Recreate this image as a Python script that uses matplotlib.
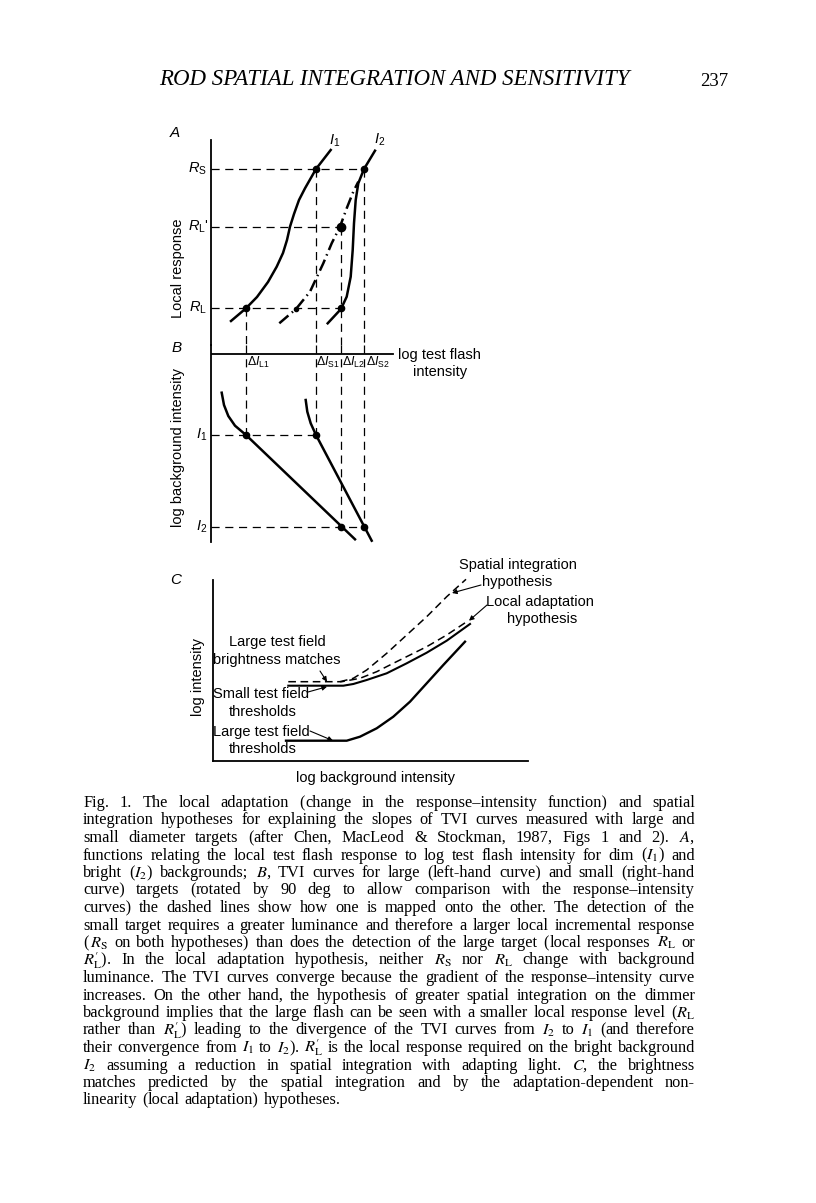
import matplotlib
matplotlib.use("Agg")
import matplotlib.pyplot as plt

W, H = 816, 1203

# ---- panel A / B levels (x: log test flash intensity, y: response / log background)
R_S, R_Lp, R_L = 17.6, 11.8, 3.7
dI_L1, dI_S1, dI_L2, dI_S2 = 3.5, 10.5, 13.0, 15.3
I1_lvl, I2_lvl = 8.1, 17.3
B_axis_end = 18.2

# response-intensity curves (panel A)
i1_x = [2.0, 3.5, 4.6, 5.7, 6.57, 7.2, 7.6, 7.9, 8.3, 8.8, 9.4, 10.5, 11.97]
i1_y = [2.4, 3.67, 4.8, 6.3, 7.83, 9.2, 10.5, 11.83, 13.1, 14.5, 15.67, 17.6, 19.5]
i2_x = [11.67, 13.0, 13.57, 13.97, 14.17, 14.3, 14.47, 14.73, 15.3, 16.4]
i2_y = [2.17, 3.6, 4.83, 6.83, 9.5, 12.17, 14.5, 16.17, 17.6, 19.43]
i2adj_x = [6.83, 8.5, 9.9, 11.23, 12.07, 12.9, 13.57, 14.23, 14.73]
i2adj_y = [2.17, 3.6, 5.33, 8.17, 10.17, 11.83, 13.67, 15.33, 16.33]

# TVI curves (panel B, rotated)
tvi_large_x = [1.07, 1.3, 1.73, 2.4, 3.5, 14.4]
tvi_large_y = [3.87, 5.1, 6.2, 7.17, 8.1, 18.53]
tvi_small_x = [9.47, 9.63, 9.97, 10.5, 16.07]
tvi_small_y = [4.6, 5.77, 6.93, 8.1, 18.67]

# ---- panel C (x: log background intensity, y: log intensity)
thr_large_x = [7.3, 13.37, 14.7, 16.37, 18.03, 19.7, 21.37, 23.03, 25.2]
thr_large_y = [2.03, 2.03, 2.43, 3.27, 4.43, 5.93, 7.77, 9.6, 11.93]
thr_small_x = [7.53, 13.03, 14.03, 15.37, 17.37, 19.37, 21.37, 23.37, 25.7]
thr_small_y = [7.53, 7.53, 7.7, 8.1, 8.77, 9.77, 10.83, 12.03, 13.7]
local_x = [7.53, 12.87, 14.7, 16.37, 18.03, 19.7, 21.37, 23.37, 25.53]
local_y = [7.93, 7.93, 8.27, 8.93, 9.77, 10.6, 11.43, 12.6, 14.03]
spatial_x = [12.7, 14.03, 15.37, 17.37, 19.37, 21.37, 23.37, 25.3]
spatial_y = [7.93, 8.27, 9.1, 10.77, 12.6, 14.43, 16.43, 18.17]

caption = [
    "Fig. 1. The local adaptation (change in the response\u2013intensity function) and spatial",
    "integration hypotheses for explaining the slopes of TVI curves measured with large and",
    "small diameter targets (after Chen, MacLeod & Stockman, 1987, Figs 1 and 2). $A$,",
    "functions relating the local test flash response to log test flash intensity for dim ($I_1$) and",
    "bright ($I_2$) backgrounds; $B$, TVI curves for large (left-hand curve) and small (right-hand",
    "curve) targets (rotated by 90 deg to allow comparison with the response\u2013intensity",
    "curves) the dashed lines show how one is mapped onto the other. The detection of the",
    "small target requires a greater luminance and therefore a larger local incremental response",
    r"($\,R_\mathrm{S}$ on both hypotheses) than does the detection of the large target (local responses $R_\mathrm{L}$ or",
    r"$R_\mathrm{L}^{\prime}$). In the local adaptation hypothesis, neither $R_\mathrm{S}$ nor $R_\mathrm{L}$ change with background",
    "luminance. The TVI curves converge because the gradient of the response\u2013intensity curve",
    "increases. On the other hand, the hypothesis of greater spatial integration on the dimmer",
    r"background implies that the large flash can be seen with a smaller local response level ($R_\mathrm{L}$",
    r"rather than $R_\mathrm{L}^{\prime}$) leading to the divergence of the TVI curves from $I_2$ to $I_1$ (and therefore",
    r"their convergence from $I_1$ to $I_2$). $R_\mathrm{L}^{\prime}$ is the local response required on the bright background",
    "$I_2$ assuming a reduction in spatial integration with adapting light. $C$, the brightness",
    "matches predicted by the spatial integration and by the adaptation-dependent non-",
    "linearity (local adaptation) hypotheses.",
]

plt.rcParams["font.family"] = ["Liberation Sans", "DejaVu Sans"]
plt.rcParams["mathtext.fontset"] = "custom"
plt.rcParams["mathtext.rm"] = "Liberation Sans"
plt.rcParams["mathtext.it"] = "Liberation Sans:italic"
plt.rcParams["mathtext.bf"] = "Liberation Sans:bold"

fig = plt.figure(figsize=(W / 100, H / 100), dpi=100)
fig.patch.set_facecolor("white")


def box(l, t, r, b):
    return [l / W, 1 - b / H, (r - l) / W, (b - t) / H]


def fp(x, y):
    return x / W, 1 - y / H


def bare(ax):
    for s in ("top", "right", "bottom"):
        ax.spines[s].set_visible(False)
    ax.spines["left"].set_linewidth(1.3)
    ax.set_xticks([])
    ax.set_yticks([])
    ax.patch.set_alpha(0)


DASH = (6.5, 4.5)
LW = 1.8
FS = 10.5

# ---------------- panel A
ax_a = fig.add_axes(box(211, 130, 480, 345))
ax_a.set_xlim(0, 26.9)
ax_a.set_ylim(0, 21.5)
bare(ax_a)
ax_a.spines["left"].set_bounds(0, 20.5)

for y, xe in zip([R_S, R_Lp, R_L], [dI_S2, dI_L2, dI_L2]):
    ax_a.plot([0, xe], [y, y], color="k", lw=0.9, dashes=DASH)
for x, ys in zip([dI_L1, dI_S1, dI_L2, dI_S2], [R_L, R_S, R_Lp, R_S]):
    ax_a.plot([x, x], [ys, 0], color="k", lw=0.9, dashes=DASH, clip_on=False)

ax_a.plot(i1_x, i1_y, color="k", lw=LW, solid_joinstyle="round", clip_on=False)
ax_a.plot(i2_x, i2_y, color="k", lw=LW, solid_joinstyle="round", clip_on=False)
ax_a.plot(i2adj_x, i2adj_y, color="k", lw=LW, dashes=(4.8, 1.8, 0.6, 1.8), clip_on=False)
ax_a.plot([dI_L1, dI_S1, dI_S2, dI_L2], [R_L, R_S, R_S, R_L], "ko", ms=4.5, clip_on=False)
ax_a.plot([dI_L2], [R_Lp], "ko", ms=6, clip_on=False)
ax_a.plot([i2adj_x[1]], [i2adj_y[1]], "ko", ms=3, clip_on=False)

# ---------------- panel B
ax_b = fig.add_axes(box(211, 345, 480, 550))
ax_b.set_xlim(0, 26.9)
ax_b.set_ylim(19.6, -0.9)
bare(ax_b)
ax_b.spines["left"].set_bounds(-0.9, 18.8)

ax_b.plot([0, B_axis_end], [0, 0], color="k", lw=1.3)
for x, ye in zip([dI_L1, dI_S1, dI_L2, dI_S2], [I1_lvl, I1_lvl, I2_lvl, I2_lvl]):
    ax_b.plot([x, x], [-0.9, ye], color="k", lw=0.9, dashes=DASH, clip_on=False)
for y, xe in zip([I1_lvl, I2_lvl], [dI_S1, dI_S2]):
    ax_b.plot([0, xe], [y, y], color="k", lw=0.9, dashes=DASH)

ax_b.plot(tvi_large_x, tvi_large_y, color="k", lw=LW, solid_joinstyle="round", clip_on=False)
ax_b.plot(tvi_small_x, tvi_small_y, color="k", lw=LW, solid_joinstyle="round", clip_on=False)
ax_b.plot([dI_L1, dI_S1, dI_L2, dI_S2], [I1_lvl, I1_lvl, I2_lvl, I2_lvl], "ko", ms=4.5, clip_on=False)

# ---------------- panel C
ax_c = fig.add_axes(box(213, 575, 528, 761))
ax_c.set_xlim(0, 31.5)
ax_c.set_ylim(0, 18.6)
bare(ax_c)
ax_c.spines["bottom"].set_visible(True)
ax_c.spines["bottom"].set_linewidth(1.3)
ax_c.spines["left"].set_bounds(0, 18.1)

ax_c.plot(thr_large_x, thr_large_y, color="k", lw=1.7, solid_joinstyle="round")
ax_c.plot(thr_small_x, thr_small_y, color="k", lw=1.5, solid_joinstyle="round")
ax_c.plot(local_x, local_y, color="k", lw=1.1, dashes=(5, 3))
ax_c.plot(spatial_x, spatial_y, color="k", lw=1.1, dashes=(5, 3))

arrow = dict(arrowstyle="-|>", lw=0.8, color="k", mutation_scale=7, shrinkA=0, shrinkB=0)
ax_c.annotate("", xy=(23.9, 16.8), xytext=fp(481, 585), textcoords="figure fraction", arrowprops=arrow)
ax_c.annotate("", xy=(25.6, local_y[-1]), xytext=fp(487, 605), textcoords="figure fraction", arrowprops=arrow)
ax_c.annotate("", xy=(11.4, local_y[0]), xytext=fp(320, 671), textcoords="figure fraction", arrowprops=arrow)
ax_c.annotate("", xy=(11.4, thr_small_y[0] - 0.1), xytext=fp(308, 692), textcoords="figure fraction", arrowprops=arrow)
ax_c.annotate("", xy=(12.0, thr_large_y[0]), xytext=fp(310, 731), textcoords="figure fraction", arrowprops=arrow)

# ---------------- figure labels
def lab(x, y, s, **kw):
    kw.setdefault("fontsize", FS)
    kw.setdefault("ha", "center")
    kw.setdefault("va", "center")
    fig.text(*fp(x, y), s, **kw)


lab(175, 133, "A", style="italic", fontsize=11)
lab(335, 141, r"$I_1$")
lab(380, 140, r"$I_2$")
lab(207, 169, r"$R_\mathrm{S}$", ha="right")
lab(209, 227, r"$R_\mathrm{L}$'", ha="right")
lab(207, 308, r"$R_\mathrm{L}$", ha="right")
lab(178, 268, "Local response", rotation=90)

lab(177, 348, "B", style="italic", fontsize=11)
lab(178, 447, "log background intensity", rotation=90)
lab(207, 435, r"$I_1$", ha="right")
lab(207, 527, r"$I_2$", ha="right")
for x, s in zip([247, 316.5, 342, 366.5],
                [r"$\Delta I_{\mathrm{L1}}$", r"$\Delta I_{\mathrm{S1}}$",
                 r"$\Delta I_{\mathrm{L2}}$", r"$\Delta I_{\mathrm{S2}}$"]):
    lab(x, 362, s, ha="left", fontsize=8.9)
lab(398, 355, "log test flash", ha="left")
lab(413, 372, "intensity", ha="left")

lab(176, 580, "C", style="italic", fontsize=11)
lab(198, 677, "log intensity", rotation=90)
lab(375, 778, "log background intensity")
lab(518, 565, "Spatial integration")
lab(517, 582, "hypothesis")
lab(540, 602, "Local adaptation")
lab(542, 619, "hypothesis")
lab(277, 642, "Large test field")
lab(277, 660, "brightness matches")
lab(213, 694, "Small test field", ha="left")
lab(263, 712, "thresholds")
lab(213, 732, "Large test field", ha="left")
lab(263, 749, "thresholds")

# ---------------- running head and caption
renderer = fig.canvas.get_renderer()
SERIF = "Liberation Serif"
MATH = "stix"

head = fig.text(*fp(159, 85), "ROD SPATIAL INTEGRATION AND SENSITIVITY", family=SERIF,
                style="italic", fontsize=13, ha="left", va="baseline")
hw = head.get_window_extent(renderer).width
head.set_fontsize(13 * (627 - 159) / hw)
fig.text(*fp(714, 85.5), "237", family=SERIF, fontsize=13.5, ha="center", va="baseline")


def parts(w):
    # a leading bracket drawn on its own keeps the word on the baseline
    if "$" not in w and w.startswith("(") and len(w) > 1:
        return ["(", w[1:]]
    return [w]


def make(s, size, yb=0.0):
    return fig.text(0, yb, s, family=SERIF, fontsize=size, math_fontfamily=MATH,
                    ha="left", va="baseline")


def word_width(w, size):
    total = 0
    for p in parts(w):
        t = make(p, size)
        total += t.get_window_extent(renderer).width
        t.remove()
    return total


def space(size):
    return size * 0.3 * 100 / 72


cap_left, cap_right = 83, 695
base = 11
natural = 0
for line in caption[:-1]:
    ws = line.split(" ")
    natural = max(natural, sum(word_width(w, base) for w in ws) + (len(ws) - 1) * space(base))
cap_size = base * (cap_right - cap_left) / natural

for i, line in enumerate(caption):
    yb = 1 - (807 + 17.5 * i) / H
    words = line.split(" ")
    groups = []
    for w in words:
        objs = [make(p, cap_size, yb) for p in parts(w)]
        groups.append([(o, o.get_window_extent(renderer).width) for o in objs])
    widths = [sum(wd for _, wd in g) for g in groups]
    if i < len(caption) - 1:
        gap = (cap_right - cap_left - sum(widths)) / (len(words) - 1)
    else:
        gap = space(cap_size)
    x = cap_left
    for g, wd in zip(groups, widths):
        px = x
        for o, pw in g:
            o.set_x(px / W)
            px += pw
        x += wd + gap

fig.savefig("out.png", dpi=100, facecolor="white")
